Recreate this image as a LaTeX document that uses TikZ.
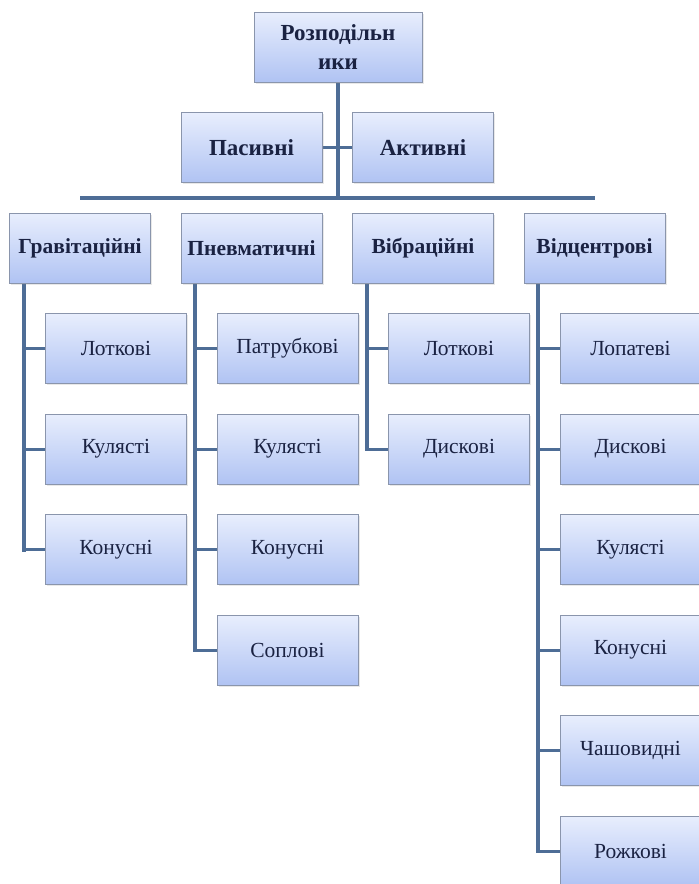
\documentclass[tikz,border=0pt]{standalone}
\usepackage{fontspec}
\setmainfont{Liberation Serif}
\usetikzlibrary{shadows,backgrounds}
\definecolor{boxtop}{HTML}{E8EEFD}
\definecolor{boxbot}{HTML}{B0C3F3}
\definecolor{boxline}{HTML}{8A95AC}
\definecolor{linkblue}{HTML}{4E6D96}
\definecolor{textnavy}{HTML}{1A2242}

\begin{document}
\begin{tikzpicture}[
    x=1pt, y=-1pt,
    node distance=100.5pt,
    box/.style={rectangle, draw=boxline, line width=0.8pt, top color=boxtop, bottom color=boxbot, minimum width=141pt, minimum height=70pt, inner sep=2pt, text centered, text=textnavy, drop shadow={opacity=0.18, shadow xshift=1.5pt, shadow yshift=-1.5pt}},
    head/.style={box, font=\fontsize{23}{29}\selectfont\bfseries},
    group/.style={box, font=\fontsize{21.5}{24}\selectfont\bfseries},
    leaf/.style={box, font=\fontsize{21.5}{24}\selectfont},
    trunk/.style={draw=linkblue, line width=4pt},
    stub/.style={draw=linkblue, line width=3pt}
]
    \useasboundingbox (0,0) rectangle (699,884);
    \clip (0,0) rectangle (699,884);

    % top of the tree
    \node[head, minimum width=168pt, align=center] (root) at (338,47) {Розподільн\\ики};
    \node[head, below of=root, xshift=-86.5pt] (pas) {Пасивні};
    \node[head, right of=pas, xshift=71pt] (akt) {Активні};

    % four kinds
    \node[group, below of=pas] (pnev) {Пневматичні};
    \node[group, left of=pnev, xshift=-71pt] (grav) {Гравітаційні};
    \node[group, right of=pnev, xshift=71pt] (vib) {Вібраційні};
    \node[group, right of=vib, xshift=71pt] (vidc) {Відцентрові};

    % gravitational
    \node[leaf, below of=grav, xshift=36pt] (grav1) {Лоткові};
    \node[leaf, below of=grav1] (grav2) {Кулясті};
    \node[leaf, below of=grav2] (grav3) {Конусні};

    % pneumatic
    \node[leaf, below of=pnev, xshift=36pt] (pnev1) {Патрубкові};
    \node[leaf, below of=pnev1] (pnev2) {Кулясті};
    \node[leaf, below of=pnev2] (pnev3) {Конусні};
    \node[leaf, below of=pnev3] (pnev4) {Соплові};

    % vibration
    \node[leaf, below of=vib, xshift=36pt] (vib1) {Лоткові};
    \node[leaf, below of=vib1] (vib2) {Дискові};

    % centrifugal
    \node[leaf, below of=vidc, xshift=36pt] (vidc1) {Лопатеві};
    \node[leaf, below of=vidc1] (vidc2) {Дискові};
    \node[leaf, below of=vidc2] (vidc3) {Кулясті};
    \node[leaf, below of=vidc3] (vidc4) {Конусні};
    \node[leaf, below of=vidc4] (vidc5) {Чашовидні};
    \node[leaf, below of=vidc5] (vidc6) {Рожкові};

    \begin{scope}[on background layer]
        \coordinate (busl) at ([yshift=15pt]grav.north);
        \coordinate (busr) at ([yshift=15pt]vidc.north);
        \draw[trunk] (root.south) -- (root.south |- busl);
        \draw[trunk] (busl) -- (busr);
        \draw[stub] (pas.east) -- (akt.west);

        \foreach \p/\last in {grav/grav3, pnev/pnev4, vib/vib2, vidc/vidc6} {
            \coordinate (\p-t) at ([xshift=14.5pt]\p.south west);
            \draw[trunk] (\p-t) -- ([yshift=-2pt]\p-t |- \last.west);
        }
        \foreach \c/\p in {grav1/grav, grav2/grav, grav3/grav,
                           pnev1/pnev, pnev2/pnev, pnev3/pnev, pnev4/pnev,
                           vib1/vib, vib2/vib,
                           vidc1/vidc, vidc2/vidc, vidc3/vidc, vidc4/vidc, vidc5/vidc, vidc6/vidc}
            \draw[stub] (\p-t |- \c.west) -- (\c.west);
    \end{scope}
\end{tikzpicture}
\end{document}
